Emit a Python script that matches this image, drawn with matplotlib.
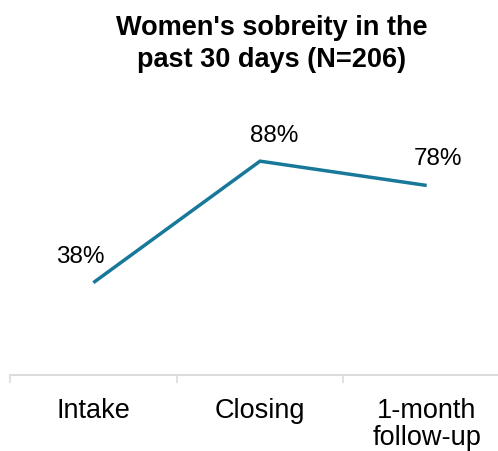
import matplotlib
matplotlib.use("Agg")
import matplotlib.pyplot as plt

categories = ["Intake", "Closing", "1-month\nfollow-up"]
values = [38, 88, 78]
value_labels = ["38%", "88%", "78%"]
title = "Women's sobreity in the\npast 30 days (N=206)"

plt.rcParams['font.family'] = ['Liberation Sans', 'DejaVu Sans']

W, H = 498, 452
fig = plt.figure(figsize=(W / 100, H / 100), dpi=100)
ax = fig.add_axes([10 / W, 1 - 376 / H, 500 / W, (376 - 133) / H])

x = list(range(len(categories)))
ax.plot(x, values, color="#17789A", linewidth=2.5, solid_capstyle="butt", solid_joinstyle="miter", clip_on=False)

offsets = [(-13, 27), (14, 26), (11, 27)]
for xi, v, lab, off in zip(x, values, value_labels, offsets):
    ax.annotate(lab, (xi, v), xytext=off, textcoords="offset pixels",
                ha="center", va="center", fontsize=17.5, color="black")

ax.set_xlim(-0.5, len(categories) - 0.5)
ax.set_ylim(0, 100)
for s in ["left", "right", "top"]:
    ax.spines[s].set_visible(False)
ax.spines["bottom"].set_color("#d9d9d9")
ax.spines["bottom"].set_linewidth(1.3)
ax.set_yticks([])
ax.set_xticks([i - 0.5 for i in range(len(categories) + 1)])
ax.set_xticklabels([])
ax.tick_params(axis="x", which="major", length=6, width=1.1, color="#d9d9d9", direction="out")
ax.set_xticks(x, minor=True)
ax.set_xticklabels(categories, minor=True, fontsize=19.5, linespacing=1.08)
ax.tick_params(axis="x", which="minor", length=0, pad=15.5)

for i, line in enumerate(title.split("\n")):
    fig.text(272 / W, 1 - (35 + 32 * i) / H, line, ha="center", va="baseline",
             fontsize=19.5, fontweight="bold")

fig.savefig("out.png", dpi=100)
